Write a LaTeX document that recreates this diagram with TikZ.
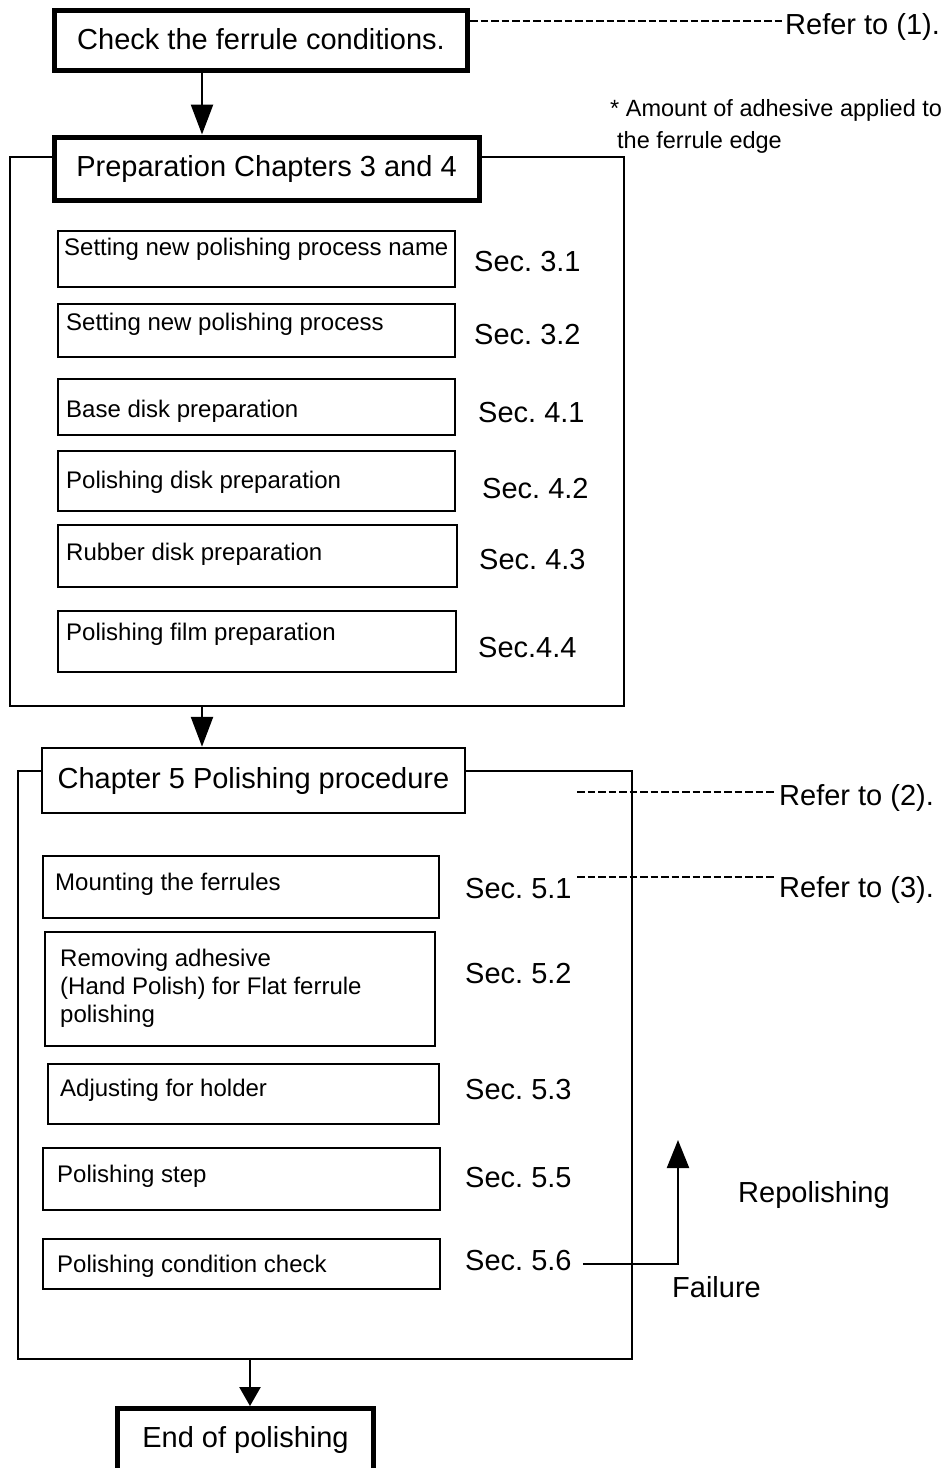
\documentclass[tikz,border=0pt]{standalone}
\usepackage{fontspec}
\setmainfont{Liberation Sans}
\usetikzlibrary{arrows.meta}
\begin{document}
\frenchspacing
\begin{tikzpicture}[x=1pt,y=-1pt,
  big/.style={font=\fontsize{29}{34}\selectfont},
  small/.style={font=\fontsize{24}{28}\selectfont},
  notefont/.style={font=\fontsize{23.5}{28}\selectfont},
  lbl/.style={inner sep=0pt, anchor=base west},
  heavybox/.style={draw, line width=5pt, fill=white, inner sep=0pt, big},
  headbox/.style={draw, line width=2.5pt, fill=white, inner sep=0pt, big},
  outerframe/.style={draw, line width=2pt, inner sep=0pt},
  stepbox/.style={draw, line width=2pt, inner sep=0pt, outer sep=0pt, anchor=north west},
  flow/.style={line width=2.5pt, -{Triangle[length=30pt,width=22pt]}},
  refline/.style={line width=2pt, dash pattern=on 7.5pt off 3pt},
]
\useasboundingbox (0,0) rectangle (946,1468);
\clip (0,0) rectangle (946,1468);

% chapter frames
\node[outerframe, minimum width=614pt, minimum height=549pt] (prepframe) at (317,431.5) {};
\node[outerframe, minimum width=614pt, minimum height=588pt] (polframe) at (325,1065) {};

% heading boxes
\node[heavybox, minimum width=413pt, minimum height=60pt] (check) at (261,40.5) {\raisebox{3pt}{Check the ferrule conditions.}};
\node[heavybox, minimum width=425pt, minimum height=63pt] (prephead) at (266.5,168.5) {Preparation Chapters 3 and 4};
\node[headbox, minimum width=423pt, minimum height=65pt] (polhead) at (253.5,780.5) {Chapter 5 Polishing procedure};
\node[heavybox, minimum width=256pt, minimum height=63pt] (endbox) at (245.5,1440) {End of polishing};

% preparation steps
\node[stepbox, minimum width=397pt, minimum height=56pt] (b1) at (58,231) {};
\node[stepbox, minimum width=397pt, minimum height=53pt] (b2) at (58,304) {};
\node[stepbox, minimum width=397pt, minimum height=56pt] (b3) at (58,379) {};
\node[stepbox, minimum width=397pt, minimum height=60pt] (b4) at (58,451) {};
\node[stepbox, minimum width=399pt, minimum height=62pt] (b5) at (58,525) {};
\node[stepbox, minimum width=398pt, minimum height=61pt] (b6) at (58,611) {};

\node[lbl, small] (t1) at (64,255.6) {Setting new polishing process name};
\node[lbl, small] (t2) at (66,330.6) {Setting new polishing process};
\node[lbl, small] (t3) at (66,417.6) {Base disk preparation};
\node[lbl, small] (t4) at (66,488.6) {Polishing disk preparation};
\node[lbl, small] (t5) at (66,560.6) {Rubber disk preparation};
\node[lbl, small] (t6) at (66,640.6) {Polishing film preparation};

\node[lbl, big] (s31) at (474,271) {Sec. 3.1};
\node[lbl, big] (s32) at (474,344.4) {Sec. 3.2};
\node[lbl, big] (s41) at (478,422.4) {Sec. 4.1};
\node[lbl, big] (s42) at (482,498.4) {Sec. 4.2};
\node[lbl, big] (s43) at (479,569.4) {Sec. 4.3};
\node[lbl, big] (s44) at (478,657.4) {Sec.4.4};

% polishing steps
\node[stepbox, minimum width=396pt, minimum height=62pt] (m1) at (43,856) {};
\node[stepbox, minimum width=390pt, minimum height=114pt] (m2) at (45,932) {};
\node[stepbox, minimum width=391pt, minimum height=60pt] (m3) at (48,1064) {};
\node[stepbox, minimum width=397pt, minimum height=62pt] (m4) at (43,1148) {};
\node[stepbox, minimum width=397pt, minimum height=50pt] (m5) at (43,1239) {};

\node[lbl, small] (u1) at (55,890.6) {Mounting the ferrules};
\node[inner sep=0pt, small, align=left, anchor=north west] (u2) at (60,949) {Removing adhesive\\(Hand Polish) for Flat ferrule\\polishing};
\node[lbl, small] (u3) at (60,1096.6) {Adjusting for holder};
\node[lbl, small] (u4) at (57,1182.6) {Polishing step};
\node[lbl, small] (u5) at (57,1272.6) {Polishing condition check};

\node[lbl, big] (s51) at (465,898) {Sec. 5.1};
\node[lbl, big] (s52) at (465,983.4) {Sec. 5.2};
\node[lbl, big] (s53) at (465,1099.4) {Sec. 5.3};
\node[lbl, big] (s55) at (465,1187.4) {Sec. 5.5};
\node[lbl, big] (s56) at (465,1270.4) {Sec. 5.6};

% side notes
\node[lbl, big] (ref1) at (785,34) {Refer to (1).};
\node[lbl, big] (ref2) at (779,805) {Refer to (2).};
\node[lbl, big] (ref3) at (779,897) {Refer to (3).};
\node[lbl, notefont] (note1) at (610,116.5) {* Amount of adhesive applied to};
\node[lbl, notefont] (note2) at (617,148.5) {the ferrule edge};
\node[lbl, big] (repol) at (738,1202) {Repolishing};
\node[lbl, big] (fail) at (672,1297) {Failure};

% main flow
\coordinate (ax1) at (202,0);
\coordinate (ax2) at (250,0);
\draw[flow] (check.south -| ax1) -- (prephead.north -| ax1);
\draw[flow] (prepframe.south -| ax1) -- (polhead.north -| ax1);
\draw[line width=2.5pt, -{Triangle[length=19pt,width=21pt]}] (polframe.south -| ax2) -- (endbox.north -| ax2);

% dashed references
\coordinate (d1) at (470,21);
\coordinate (d2) at (577,792);
\coordinate (d3) at (577,877);
\draw[refline] (check.east |- d1) -- (d1 -| ref1.west);
\draw[refline, shorten >=4pt] (d2) -- (d2 -| ref2.west);
\draw[refline, shorten >=4pt] (d3) -- (d3 -| ref3.west);

% failure loop
\coordinate (fk) at (678,1264);
\coordinate (ftip) at (678,1140);
\draw[line width=2.2pt, shorten <=11pt, -{Triangle[length=28pt,width=22pt]}] (s56.east |- fk) -- (fk) -- (ftip);
\end{tikzpicture}
\end{document}
